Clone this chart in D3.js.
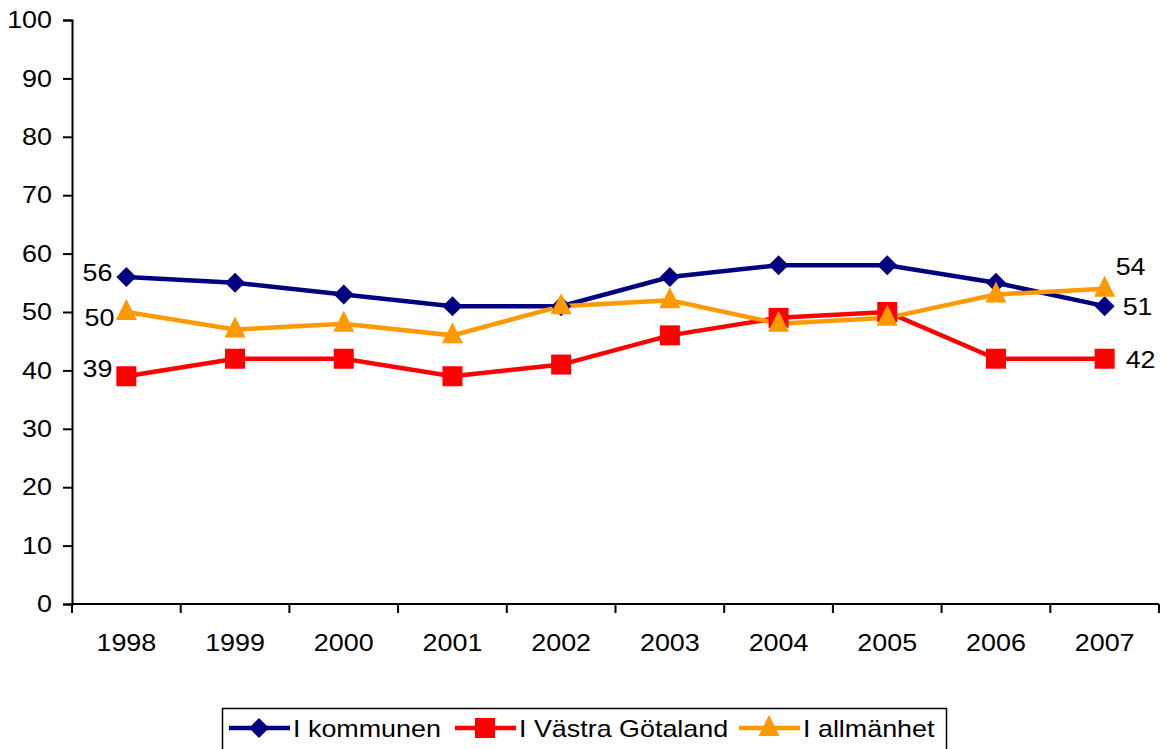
<!DOCTYPE html>
<html>
<head>
<meta charset="utf-8">
<script src="https://cdn.jsdelivr.net/npm/d3@7"></script>
<style>
  body { margin: 0; background: #fff; }
  svg { font-family: Arial, "Liberation Sans", sans-serif; }
</style>
</head>
<body>
<div class="LineChart"></div>
<script>
const years = ["1998", "1999", "2000", "2001", "2002", "2003", "2004", "2005", "2006", "2007"];
const kommunen = [56, 55, 53, 51, 51, 56, 58, 58, 55, 51];
const vastra = [39, 42, 42, 39, 41, 46, 49, 50, 42, 42];
const allmanhet = [50, 47, 48, 46, 51, 52, 48, 49, 53, 54];
const yTicks = [0, 10, 20, 30, 40, 50, 60, 70, 80, 90, 100];
const seriesNames = ["I kommunen", "I Västra Götaland", "I allmänhet"];

const svgWidth = 1165;
const svgHeight = 749;
const fontSize = 24;
const stretch = 1.12; // the original chart text is slightly widened

const series = [
  { name: seriesNames[0], values: kommunen, color: "#000080", shape: "diamond" },
  { name: seriesNames[1], values: vastra, color: "#FF0000", shape: "square" },
  { name: seriesNames[2], values: allmanhet, color: "#FF9900", shape: "triangle" },
];

const svg = d3.select(".LineChart")
  .append("svg")
  .attr("width", svgWidth)
  .attr("height", svgHeight);

const xScale = d3.scaleBand().domain(years).range([72, 1159]);
const yScale = d3.scaleLinear().domain([0, 100]).range([604, 20]);
const xc = (d) => xScale(d) + xScale.bandwidth() / 2;

// axes
const yAxis = svg.append("g")
  .attr("transform", "translate(72,0)")
  .call(d3.axisLeft(yScale).tickValues(yTicks).tickSize(9).tickPadding(11));
const xAxis = svg.append("g")
  .attr("transform", "translate(0,604)")
  .call(d3.axisBottom(xScale).tickSize(0).tickPadding(30));

[yAxis, xAxis].forEach((g) => {
  g.select(".domain").attr("stroke", "#000").attr("stroke-width", 2);
  g.selectAll(".tick line").attr("stroke", "#000").attr("stroke-width", 2);
  g.selectAll("text").attr("font-size", fontSize).attr("fill", "#000")
    .style("font-family", "Arial, 'Liberation Sans', sans-serif");
});
xAxis.select(".domain").attr("d", "M72,0H1159");

// category boundary ticks on x axis
const bounds = years.map((d) => xScale(d)).concat([xScale.range()[1]]);
svg.append("g")
  .selectAll("line")
  .data(bounds)
  .join("line")
  .attr("x1", (d) => d)
  .attr("x2", (d) => d)
  .attr("y1", 604)
  .attr("y2", 613)
  .attr("stroke", "#000")
  .attr("stroke-width", 2);

function marker(sel, shape, color, size) {
  if (shape === "diamond") {
    sel.append("path")
      .attr("d", `M0,${-size}L${size},0L0,${size}L${-size},0Z`)
      .attr("fill", color);
  } else if (shape === "square") {
    sel.append("rect")
      .attr("x", -size).attr("y", -size)
      .attr("width", size * 2).attr("height", size * 2)
      .attr("fill", color);
  } else {
    sel.append("path")
      .attr("d", `M0,${-size * 1.3}L${size * 1.05},${size * 0.8}L${-size * 1.05},${size * 0.8}Z`)
      .attr("fill", color);
  }
}

const line = d3.line()
  .x((d, i) => xc(years[i]))
  .y((d) => yScale(d));

series.forEach((s) => {
  svg.append("path")
    .datum(s.values)
    .attr("d", line)
    .attr("fill", "none")
    .attr("stroke", s.color)
    .attr("stroke-width", 4.5);
});

series.forEach((s) => {
  svg.append("g")
    .selectAll("g")
    .data(s.values)
    .join("g")
    .attr("transform", (d, i) => `translate(${xc(years[i])},${yScale(d)})`)
    .each(function () {
      marker(d3.select(this), s.shape, s.color, 10);
    });
});

// data labels at first and last point
const labels = svg.append("g")
  .attr("font-size", fontSize)
  .attr("fill", "#000");
const first = years[0];
const last = years[years.length - 1];
const n = years.length - 1;
[
  { x: xc(first) - 14, y: yScale(kommunen[0]) + 4, t: kommunen[0], a: "end" },
  { x: xc(first) - 12, y: yScale(allmanhet[0]) + 14, t: allmanhet[0], a: "end" },
  { x: xc(first) - 14, y: yScale(vastra[0]) + 1, t: vastra[0], a: "end" },
  { x: xc(last) + 11, y: yScale(allmanhet[n]) - 14, t: allmanhet[n], a: "start" },
  { x: xc(last) + 18, y: yScale(kommunen[n]) + 9, t: kommunen[n], a: "start" },
  { x: xc(last) + 21, y: yScale(vastra[n]) + 9, t: vastra[n], a: "start" },
].forEach((l) => {
  labels.append("text")
    .attr("x", l.x)
    .attr("y", l.y)
    .attr("text-anchor", l.a)
    .text(l.t);
});

// legend
const legend = svg.append("g");
legend.append("rect")
  .attr("x", 222.5).attr("y", 708.5)
  .attr("width", 724).attr("height", 50)
  .attr("fill", "#fff")
  .attr("stroke", "#000")
  .attr("stroke-width", 1.5);

const legendX = [229, 455, 739];
series.forEach((s, i) => {
  const g = legend.append("g").attr("transform", `translate(${legendX[i]},728)`);
  g.append("line")
    .attr("x1", 0).attr("x2", 61)
    .attr("stroke", s.color).attr("stroke-width", 4.5);
  const m = g.append("g").attr("transform", "translate(30,0)");
  marker(m, s.shape, s.color, 10);
  g.append("text")
    .attr("x", 64).attr("y", 9)
    .attr("font-size", fontSize)
    .text(s.name);
});

// widen all text a little, like the stretched original
svg.selectAll("text").each(function () {
  const w = this.getComputedTextLength();
  d3.select(this)
    .attr("textLength", w * stretch)
    .attr("lengthAdjust", "spacingAndGlyphs");
});
</script>
</body>
</html>
